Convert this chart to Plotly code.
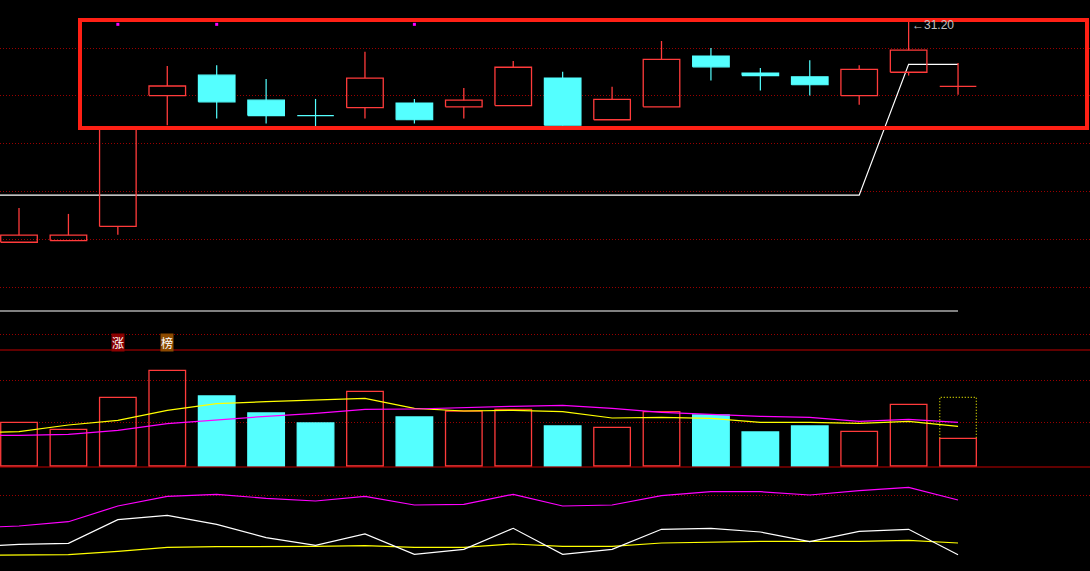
import plotly.graph_objects as go

# ---- candle data (20 sessions) ----
days = list(range(20))
opens = [25.89, 25.93, 26.27, 29.41, 29.90, 29.30, 28.94, 29.12, 29.23, 29.14,
         29.17, 29.83, 28.83, 29.14, 30.36, 29.95, 29.86, 29.41, 29.97, 29.63]
closes = [26.06, 26.06, 28.66, 29.64, 29.26, 28.93, 28.93, 29.83, 28.83, 29.30,
          30.09, 28.70, 29.32, 30.28, 30.10, 29.89, 29.67, 30.04, 30.50, 29.63]
highs = [26.71, 26.57, 28.68, 30.12, 30.14, 29.81, 29.33, 30.46, 29.33, 29.59,
         30.24, 29.98, 29.62, 30.72, 30.55, 30.07, 30.26, 30.14, 31.20, 30.19]
lows = [25.89, 25.93, 26.07, 28.70, 28.86, 28.74, 28.68, 28.86, 28.74, 28.86,
        29.17, 28.69, 28.83, 29.14, 29.77, 29.53, 29.41, 29.19, 29.89, 29.43]

# lines start one session before the visible window
line_days = list(range(-1, 20))
stop_line = [27.02, 27.02, 27.02, 27.02, 27.02, 27.02, 27.02, 27.02, 27.02, 27.02, 27.02,
             27.02, 27.02, 27.02, 27.02, 27.02, 27.02, 27.02, 27.02, 30.16, 30.16]
support_level = 24.24
signal_days = [2, 4, 8]
signal_price = [31.12, 31.12, 31.12]
max_label = "←31.20"

# ---- volume ----
volume = [4370, 3670, 6870, 9570, 7000, 5300, 4300, 7470, 4900, 5500,
          5670, 4000, 3870, 5430, 5100, 3400, 4000, 3470, 6170, 2770]
volume_forecast = 6870
vol_ma5 = [3300, 3430, 4100, 4570, 5570, 6230, 6430, 6570, 6770, 5770, 5500,
           5570, 5430, 4800, 4870, 4770, 4370, 4370, 4270, 4470, 3970]
vol_ma10 = [3050, 3070, 3170, 3570, 4230, 4630, 4970, 5270, 5670, 5700, 5870,
            5970, 6070, 5770, 5370, 5170, 4970, 4870, 4470, 4670, 4370]

# ---- lower indicator ----
ind_white = [24.0, 26.7, 27.7, 51.3, 55.7, 46.7, 33.3, 25.7, 37.0, 16.7, 21.7,
             42.7, 16.7, 21.7, 41.7, 42.7, 39.0, 29.3, 39.7, 41.7, 16.3]
ind_yellow = [15.7, 15.7, 16.3, 19.7, 23.7, 24.3, 24.3, 24.7, 25.3, 23.7, 23.7,
              27.0, 24.7, 24.7, 28.0, 29.0, 29.7, 29.7, 29.7, 30.7, 28.0]
ind_magenta = [43.0, 45.0, 49.3, 65.0, 74.7, 76.7, 72.7, 70.0, 74.7, 66.0, 66.7,
               76.7, 65.0, 66.0, 75.3, 79.3, 79.3, 76.0, 80.3, 83.7, 71.0]

price_grid = [30.55, 29.42, 28.27, 27.11, 25.96, 24.81, 23.68]
vol_grid = [8570, 4370]
ind_grid = [75.7]

RED = "#ff3b3b"
CYAN = "#54ffff"
GRID = "#990000"
W = 0.74

# build candle geometry
up_x, up_y, dn_x, dn_y, dw_x, dw_y = [], [], [], [], [], []
for i, o, h, l, c in zip(days, opens, highs, lows, closes):
    top, bot = max(o, c), min(o, c)
    xl, xr = i - W / 2, i + W / 2
    if c >= o:
        up_x += [xl, xr, xr, xl, xl, None, i, i, None, i, i, None]
        up_y += [bot, bot, top, top, bot, None, h, top, None, bot, l, None]
    else:
        dn_x += [xl, xr, xr, xl, xl, None]
        dn_y += [bot, bot, top, top, bot, None]
        dw_x += [i, i, None]
        dw_y += [h, l, None]

fig = go.Figure()

# volume bars first (bar layer)
vol_up = [c >= o for o, c in zip(opens, closes)]
fig.add_trace(go.Bar(
    x=days, y=volume, width=W, yaxis="y2",
    marker=dict(color=["rgba(0,0,0,0)" if u else CYAN for u in vol_up],
                line=dict(color=[RED if u else CYAN for u in vol_up], width=1.3)),
    hoverinfo="skip"))

# main panel lines
fig.add_trace(go.Scatter(x=line_days, y=stop_line, mode="lines",
                         line=dict(color="white", width=1.2), hoverinfo="skip"))
fig.add_trace(go.Scatter(x=[line_days[0], days[-1]], y=[support_level, support_level], mode="lines",
                         line=dict(color="white", width=1.2), hoverinfo="skip"))

# candles
fig.add_trace(go.Scatter(x=dw_x, y=dw_y, mode="lines", line=dict(color=CYAN, width=1.2),
                         hoverinfo="skip"))
fig.add_trace(go.Scatter(x=dn_x, y=dn_y, mode="lines", fill="toself", fillcolor=CYAN,
                         line=dict(color=CYAN, width=1.2), hoverinfo="skip"))
fig.add_trace(go.Scatter(x=up_x, y=up_y, mode="lines", line=dict(color=RED, width=1.3),
                         hoverinfo="skip"))
fig.add_trace(go.Scatter(x=signal_days, y=signal_price, mode="markers",
                         marker=dict(symbol="square", size=3, color="#ff00ff"), hoverinfo="skip"))

# volume forecast box (dotted) and MAs
last = days[-1]
fig.add_trace(go.Scatter(
    x=[last - W / 2, last - W / 2, last + W / 2, last + W / 2],
    y=[volume[-1], volume_forecast, volume_forecast, volume[-1]],
    mode="lines", yaxis="y2", line=dict(color="#e6e600", width=1.2, dash="1px,2px"),
    hoverinfo="skip"))
fig.add_trace(go.Scatter(x=line_days, y=vol_ma5, mode="lines", yaxis="y2",
                         line=dict(color="#ffff00", width=1.2), hoverinfo="skip"))
fig.add_trace(go.Scatter(x=line_days, y=vol_ma10, mode="lines", yaxis="y2",
                         line=dict(color="#ff00ff", width=1.2), hoverinfo="skip"))

# lower indicator
for vals, col in [(ind_magenta, "#ff00ff"), (ind_yellow, "#ffff00"), (ind_white, "#ffffff")]:
    fig.add_trace(go.Scatter(x=line_days, y=vals, mode="lines", yaxis="y3",
                             line=dict(color=col, width=1.2), hoverinfo="skip"))

H = 571.0
main_bot = 1 - 350 / H
vol_bot = 1 - 467 / H

axis_common = dict(showticklabels=False, zeroline=False, showline=False, ticks="",
                   gridcolor=GRID, griddash="1px,2px", gridwidth=1)
fig.update_layout(
    width=1090, height=571,
    margin=dict(l=0, r=0, t=0, b=0),
    paper_bgcolor="black", plot_bgcolor="black",
    showlegend=False, barmode="overlay",
    xaxis=dict(range=[-0.3845, 21.67], visible=False, showgrid=False),
    yaxis=dict(domain=[main_bot, 1], range=[23.304, 31.704], tickvals=price_grid, **axis_common),
    yaxis2=dict(domain=[vol_bot, main_bot], range=[-100, 11600], anchor="x",
                tickvals=vol_grid, **axis_common),
    yaxis3=dict(domain=[0, vol_bot], range=[0, 104], anchor="x",
                tickvals=ind_grid, **axis_common),
)

# panel separators
for yy in [main_bot, vol_bot]:
    fig.add_shape(type="line", xref="paper", yref="paper", x0=0, x1=1, y0=yy, y1=yy,
                  line=dict(color="#c00000", width=1))

# highlight box
fig.add_shape(type="rect", xref="paper", yref="paper",
              x0=80 / 1090, x1=1087 / 1090, y0=1 - 128 / H, y1=1 - 20 / H,
              line=dict(color="#ff2015", width=4))

# max price label
fig.add_annotation(x=highs.index(max(highs)), y=max(highs), text=max_label, showarrow=False,
                   xanchor="left", yanchor="middle", xshift=1, yshift=-4,
                   font=dict(family="Liberation Sans", size=12, color="#c0c0c0"))

# markers for limit-up / dragon-tiger list
for d, txt, bg in [(2, "涨", "#8c0000"), (3, "榜", "#8c4a00")]:
    fig.add_annotation(x=d, y=1 - 342 / H, yref="paper", text=txt, showarrow=False,
                       xanchor="center", yanchor="middle", bgcolor=bg, borderpad=0,
                       font=dict(family="Noto Sans CJK SC", size=12, color="white"))

# drop the default page margin so the chart fills the window
fig.write_html("out.html", config={"displayModeBar": False},
               post_script="document.body.style.margin='0';document.body.style.background='black';")
